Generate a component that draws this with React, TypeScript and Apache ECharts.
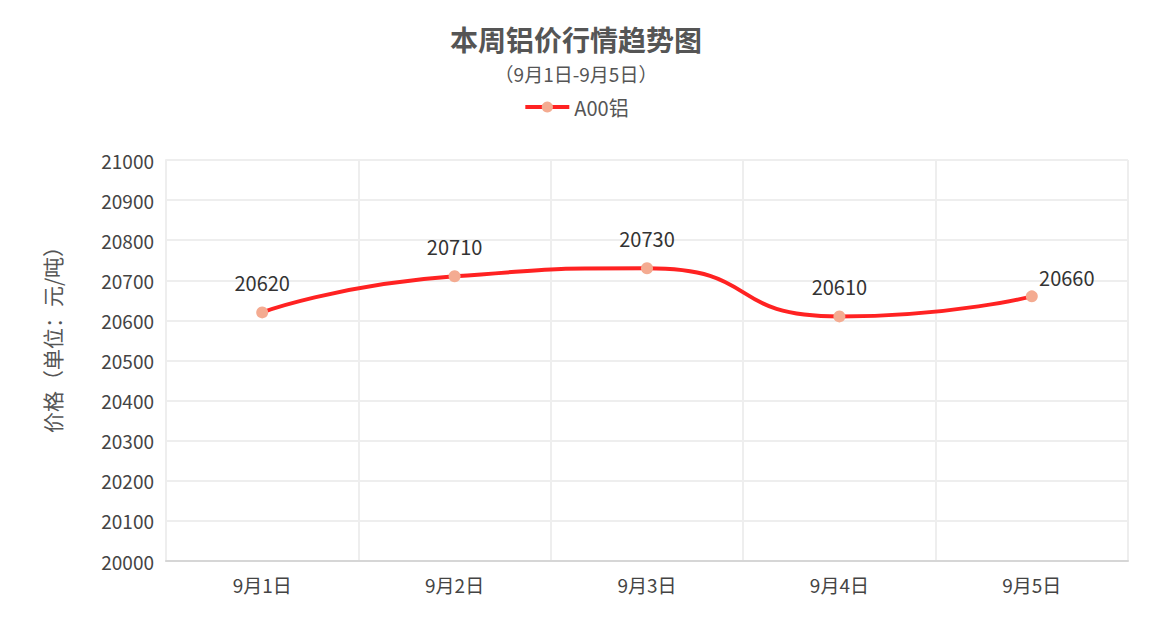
import { useEffect, useRef } from 'react'
import * as echarts from 'echarts'

// 本周铝价（元/吨）
const days = ['9月1日', '9月2日', '9月3日', '9月4日', '9月5日']
const a00Prices = [20620, 20710, 20730, 20610, 20660]
const seriesName = 'A00铝'

const yMin = 20000
const yMax = 21000
const yStep = 100

const FONT = '"Noto Sans CJK SC", "Noto Sans", sans-serif'

export default function App() {
  const chartRef = useRef<HTMLDivElement>(null)

  useEffect(() => {
    const host = chartRef.current
    if (!host) return
    const chart = echarts.init(host, null, { renderer: 'svg' })

    const lastIdx = a00Prices.length - 1

    chart.setOption({
      animation: false,
      backgroundColor: '#fff',
      textStyle: { fontFamily: FONT },
      title: [
        {
          text: '本周铝价行情趋势图',
          left: 'center',
          top: 25,
          padding: 0,
          textStyle: {
            fontFamily: FONT,
            fontSize: 28,
            lineHeight: 28,
            fontWeight: 'bold',
            color: '#555'
          }
        },
        {
          text: '（9月1日-9月5日）',
          left: 'center',
          top: 64,
          padding: 0,
          textStyle: {
            fontFamily: FONT,
            fontSize: 19,
            lineHeight: 19,
            fontWeight: 'normal',
            color: '#555'
          }
        }
      ],
      legend: {
        top: 92,
        left: 'center',
        itemWidth: 44,
        itemHeight: 14,
        itemGap: 10,
        lineStyle: { width: 4 },
        textStyle: { fontFamily: FONT, fontSize: 20, color: '#555' },
        data: [seriesName]
      },
      grid: { left: 166, right: 24, top: 160, bottom: 83, containLabel: false },
      xAxis: {
        type: 'category',
        data: days,
        boundaryGap: true,
        axisLine: { lineStyle: { color: '#d6d6d6', width: 2 } },
        axisTick: { show: false },
        axisLabel: { fontFamily: FONT, fontSize: 19, color: '#444', margin: 14 },
        splitLine: { show: true, lineStyle: { color: '#eeeeee', width: 2 } }
      },
      yAxis: {
        type: 'value',
        min: yMin,
        max: yMax,
        interval: yStep,
        name: '价格（单位：元/吨）',
        nameLocation: 'middle',
        nameGap: 104,
        nameTextStyle: {
          fontFamily: FONT,
          fontSize: 21,
          color: '#555',
          padding: [0, 0, 0, 52]
        },
        axisLine: { show: true, lineStyle: { color: '#eeeeee', width: 2 } },
        axisTick: { show: false },
        axisLabel: {
          fontFamily: FONT,
          fontSize: 19,
          color: '#444',
          margin: 12,
          formatter: (v: number) => String(v)
        },
        splitLine: { show: true, lineStyle: { color: '#eeeeee', width: 2 } }
      },
      series: [
        {
          name: seriesName,
          type: 'line',
          smooth: 0.6,
          symbol: 'circle',
          symbolSize: 12,
          lineStyle: { color: '#ff2222', width: 4 },
          itemStyle: { color: '#f4ab91' },
          label: {
            show: true,
            position: 'top',
            distance: 14,
            fontFamily: FONT,
            fontSize: 20,
            color: '#333'
          },
          data: a00Prices.map((v, i) =>
            i === lastIdx
              ? { value: v, label: { offset: [35, 11] } }
              : v
          )
        }
      ]
    })

    return () => {
      chart.dispose()
    }
  }, [])

  return (
    <div
      ref={chartRef}
      style={{ position: 'fixed', left: 0, top: 0, width: 1152, height: 644 }}
    />
  )
}
